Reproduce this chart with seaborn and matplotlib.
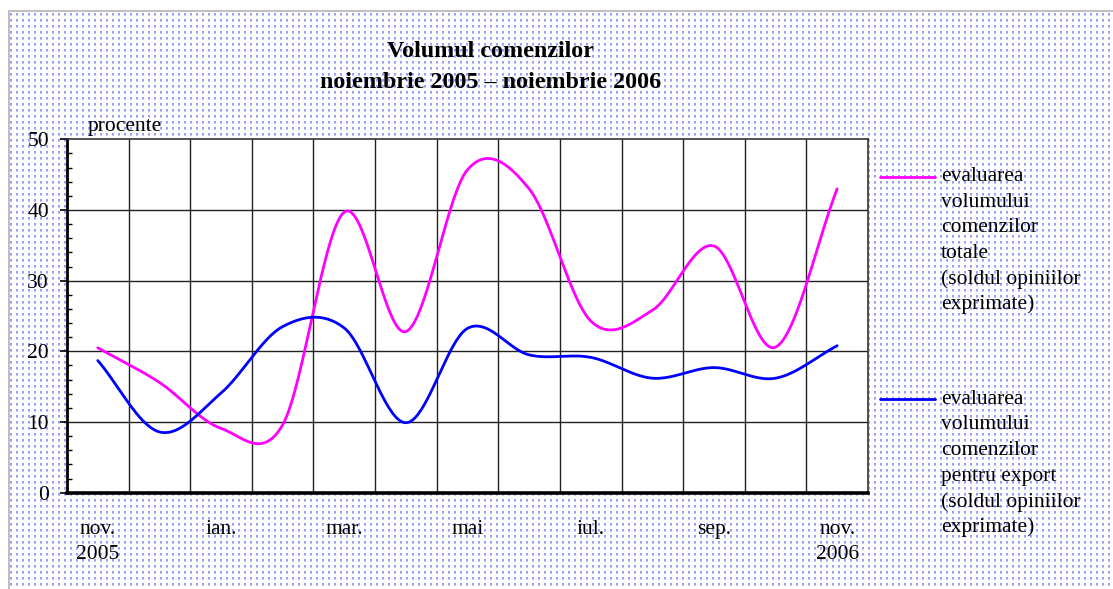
import numpy as np
import pandas as pd
import matplotlib
matplotlib.use('Agg')
import matplotlib.pyplot as plt
import seaborn as sns

# Monthly values, nov. 2005 - nov. 2006 (percent, balance of opinions)
months = ['nov. 2005', 'dec.', 'ian.', 'feb.', 'mar.', 'apr.', 'mai', 'iun.',
          'iul.', 'aug.', 'sep.', 'oct.', 'nov. 2006']
total_orders = [20.5, 15.6, 9.1, 9.6, 39.7, 22.8, 45.7, 43.0, 24.3, 25.8, 34.9, 20.6, 43.0]
export_orders = [18.7, 8.6, 14.1, 23.5, 23.3, 9.9, 23.25, 19.5, 19.15, 16.2, 17.7, 16.2, 20.8]

tick_labels = ['nov.\n2005', '', 'ian.', '', 'mar.', '', 'mai', '', 'iul.', '', 'sep.', '', 'nov.\n2006']

legend_total = ['evaluarea', 'volumului', 'comenzilor', 'totale', '(soldul opiniilor', 'exprimate)']
legend_export = ['evaluarea', 'volumului', 'comenzilor', 'pentru export', '(soldul opiniilor', 'exprimate)']

PINK = '#FF00FF'
BLUE = '#0000FF'
W, H = 1113, 589
FS = 15.5


def smooth_curve(values, steps=40):
    """Excel-like smoothed line: cubic Hermite through every point."""
    y = np.asarray(values, dtype=float)
    n = len(y)
    m = np.zeros(n)
    m[1:-1] = (y[2:] - y[:-2]) / 2.0
    m[0] = y[1] - y[0]
    m[-1] = y[-1] - y[-2]
    xs, ys = [], []
    for i in range(n - 1):
        t = np.linspace(0, 1, steps, endpoint=(i == n - 2))
        h00 = 2 * t**3 - 3 * t**2 + 1
        h10 = t**3 - 2 * t**2 + t
        h01 = -2 * t**3 + 3 * t**2
        h11 = t**3 - t**2
        xs.append(i + t)
        ys.append(h00 * y[i] + h10 * m[i] + h01 * y[i + 1] + h11 * m[i + 1])
    return np.concatenate(xs), np.concatenate(ys)


def background():
    """Dotted lavender pattern with a grey frame, like the source page."""
    img = np.ones((H, W, 3))
    for y0 in range(13, H, 6):
        for x0 in range(10, W, 6):
            img[y0:y0 + 2, x0:x0 + 2] = (0.62, 0.62, 0.98)
            img[y0 + 2:y0 + 3, x0:x0 + 2] = (0.78, 0.78, 1.0)
    img[10:12, 8:] = 0.75
    img[10:, 8:10] = 0.75
    return img


def px(x, y):
    return x / W, 1 - y / H


sns.set_theme(style='white')
plt.rcParams['font.family'] = ['Liberation Serif', 'DejaVu Serif']
plt.rcParams['text.color'] = 'black'
plt.rcParams['xtick.color'] = 'black'
plt.rcParams['ytick.color'] = 'black'

fig = plt.figure(figsize=(W / 100, H / 100), dpi=100)
fig.patch.set_facecolor('white')
fig.figimage(background(), xo=0, yo=0, origin='upper', zorder=-10)

ax = fig.add_axes([67 / W, 1 - 492.7 / H, (868 - 67) / W, (492.7 - 139.3) / H])
ax.set_facecolor('white')
ax.set_zorder(1)

rows = []
for name, vals in [('total', total_orders), ('export', export_orders)]:
    sx, sy = smooth_curve(vals)
    rows.append(pd.DataFrame({'x': sx, 'y': sy, 'serie': name}))
df = pd.concat(rows, ignore_index=True)

sns.lineplot(data=df, x='x', y='y', hue='serie', palette={'total': PINK, 'export': BLUE},
             estimator=None, sort=False, linewidth=2.0, legend=False, ax=ax, zorder=3)

ax.set_xlim(-0.5, len(months) - 0.5)
ax.set_ylim(0, 50)
ax.set_xlabel('')
ax.set_ylabel('')

# y axis: major ticks outward, minor ticks inward
ax.set_yticks(np.arange(0, 51, 10))
ax.set_yticks(np.arange(0, 51, 2), minor=True)
ax.tick_params(axis='y', which='major', direction='out', length=5, width=1.2,
               color='black', labelsize=FS, pad=8, left=True)
ax.tick_params(axis='y', which='minor', direction='in', length=3.6, width=1.0,
               color='black', left=True)

# x axis: labels at month centres, grid at month boundaries
ax.set_xticks(np.arange(len(months)))
ax.set_xticklabels(tick_labels)
ax.tick_params(axis='x', which='both', length=0, labelsize=FS, pad=20)
for lab in ax.get_xticklabels():
    lab.set_linespacing(1.4)

ax.grid(False)
for v in np.arange(0.5, len(months) - 1, 1.0):
    ax.axvline(v, color='#222222', linewidth=1.0, zorder=1)
for h in range(10, 50, 10):
    ax.axhline(h, color='#222222', linewidth=1.0, zorder=1)

for side in ['top', 'right']:
    ax.spines[side].set_color('#333333')
    ax.spines[side].set_linewidth(1.2)
ax.spines['left'].set_color('black')
ax.spines['left'].set_linewidth(2.0)
ax.spines['bottom'].set_color('black')
ax.spines['bottom'].set_linewidth(2.6)

# titles
fig.text(*px(491, 57), 'Volumul comenzilor', ha='center', va='baseline',
         fontsize=17.3, fontweight='bold')
fig.text(*px(491, 88), 'noiembrie 2005 \u2013 noiembrie 2006', ha='center', va='baseline',
         fontsize=17.3, fontweight='bold')
fig.text(*px(88, 131), 'procente', ha='left', va='baseline', fontsize=FS)

# legend drawn by hand to keep the multi-line layout
for y0, color, lines in [(176.5, PINK, legend_total), (399.3, BLUE, legend_export)]:
    fig.add_artist(plt.Line2D([880 / W, 935 / W], [1 - y0 / H, 1 - y0 / H],
                              color=color, linewidth=2.0))
    for k, line in enumerate(lines):
        fig.text(*px(941, y0 + 25.6 * k), line, ha='left', va='center', fontsize=FS)

fig.savefig('out.png', dpi=100)
